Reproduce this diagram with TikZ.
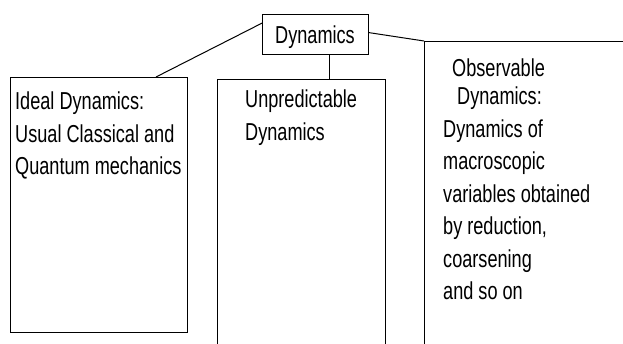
\documentclass[tikz,border=0pt]{standalone}
\usepackage{fontspec}
\setmainfont{Liberation Sans}[FakeStretch=0.74]
\tikzset{
  box/.style={draw, line width=1pt, rectangle, inner sep=0pt, anchor=north west},
  txt/.style={inner sep=0pt, anchor=base west, align=left, font=\fontsize{24.5}{32.5}\selectfont},
  link/.style={line width=1pt}
}
\begin{document}
\begin{tikzpicture}[x=1pt,y=-1pt]
\useasboundingbox (0,0) rectangle (623,344);
\node[box, minimum width=106pt, minimum height=40pt] (dyn) at (262,14) {};
\node[txt] (dyntxt) at (275,44) {Dynamics};
\node[box, minimum width=177pt, minimum height=255pt] (ideal) at (10,77) {};
\node[box, minimum width=168pt, minimum height=300pt] (unpred) at (217,79) {};
\node[box, minimum width=260pt, minimum height=330pt] (obs) at (424,41) {};
\node[txt] (idealtxt) at (15,175) {Ideal Dynamics:\\Usual Classical and\\Quantum mechanics};
\node[txt] (unpredtxt) at (245,140.5) {Unpredictable\\Dynamics};
\node[txt] (obstxt) at (443,300) {\hspace*{9pt}Observable\\[-4.5pt]\hspace*{14pt}Dynamics:\\Dynamics of\\macroscopic\\variables obtained\\by reduction,\\coarsening\\and so on};
\draw[link] (dyn.168) -- (ideal.66);
\draw[link] (dyn.-55) -- (dyn.-55 |- unpred.north);
\draw[link] (dyn.2) -- (obs.north west);
\end{tikzpicture}
\end{document}
